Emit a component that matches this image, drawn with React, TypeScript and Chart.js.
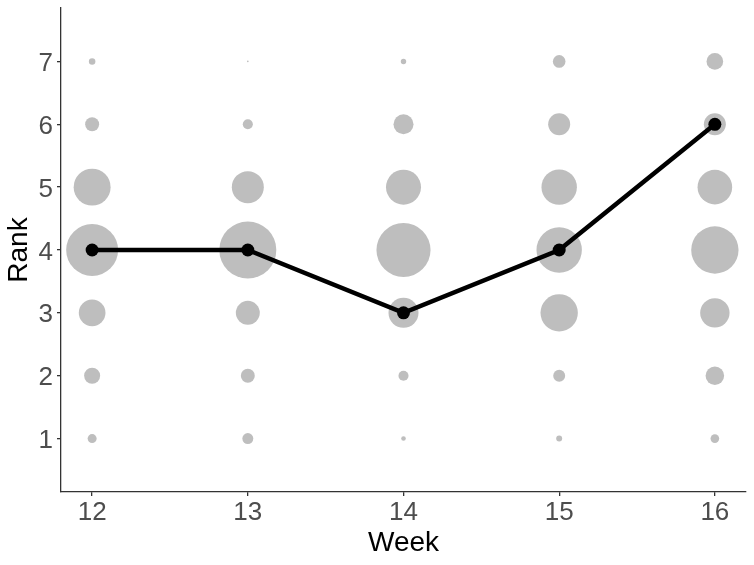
import React, { useEffect, useRef } from "react";
import { Chart, registerables } from "chart.js";

Chart.register(...registerables);

const weeks = [12, 13, 14, 15, 16];
const ranks = [1, 2, 3, 4, 5, 6, 7];
// relative share of each rank in each week (cols: ranks 1..7)
const share12 = [2.5, 7.9, 22, 83, 42, 6.0, 1.3];
const share13 = [3.7, 6.0, 17.7, 100, 31.5, 3.1, 0.08];
const share14 = [0.65, 3.1, 27.7, 90, 37.7, 12.3, 0.9];
const share15 = [1.1, 4.4, 43, 63.4, 38.6, 14.9, 4.9];
const share16 = [2.3, 10.6, 26.6, 69, 36.8, 14.9, 8.5];
const shares = [share12, share13, share14, share15, share16];
const medianRank = [4, 4, 3, 4, 6];
const xTicks = [12, 13, 14, 15, 16];
const yTicks = [1, 2, 3, 4, 5, 6, 7];
const xTitle = "Week";
const yTitle = "Rank";

export default function App() {
  const ref = useRef<HTMLCanvasElement>(null);
  useEffect(() => {
    const bubbles: { x: number; y: number; v: number }[] = [];
    weeks.forEach((w, i) => {
      ranks.forEach((r, j) => bubbles.push({ x: w, y: r, v: shares[i][j] }));
    });
    const font = "'Liberation Sans', Arial, sans-serif";
    const labels = {
      id: "labels",
      afterDraw(chart: any) {
        const { ctx, chartArea } = chart;
        const xs = chart.scales.x;
        const ys = chart.scales.y;
        ctx.save();
        ctx.fillStyle = "#4d4d4d";
        ctx.font = `26px ${font}`;
        ctx.textBaseline = "alphabetic";
        ctx.textAlign = "center";
        xTicks.forEach((t) => ctx.fillText(String(t), xs.getPixelForValue(t), 519.5));
        ctx.textAlign = "right";
        yTicks.forEach((t) => ctx.fillText(String(t), 53, ys.getPixelForValue(t) + 9.5));
        ctx.fillStyle = "#000";
        ctx.font = `28px ${font}`;
        ctx.textAlign = "center";
        ctx.fillText(xTitle, (chartArea.left + chartArea.right) / 2, 551);
        ctx.translate(27, (chartArea.top + chartArea.bottom) / 2);
        ctx.rotate(-Math.PI / 2);
        ctx.fillText(yTitle, 0, 0);
        ctx.restore();
      },
    };
    const chart = new Chart(ref.current!, {
      type: "bubble",
      data: {
        datasets: [
          {
            type: "line",
            data: weeks.map((w, i) => ({ x: w, y: medianRank[i] })),
            borderColor: "#000",
            backgroundColor: "#000",
            borderWidth: 4.5,
            pointRadius: 6.5,
            pointHoverRadius: 6.5,
            pointBorderWidth: 0,
            order: 0,
          } as any,
          {
            type: "bubble",
            data: bubbles as any,
            backgroundColor: "#bebebe",
            borderWidth: 0,
            radius: (c: any) => Math.sqrt(c.raw.v) * 2.85,
            hoverRadius: 0,
            order: 1,
          } as any,
        ],
      },
      options: {
        responsive: false,
        animation: false,
        events: [],
        layout: { autoPadding: false, padding: { top: 8, right: 8, left: 0, bottom: 0 } },
        plugins: { legend: { display: false }, tooltip: { enabled: false } },
        scales: {
          x: {
            type: "linear",
            min: 11.8,
            max: 16.2,
            afterBuildTicks: (s: any) => {
              s.ticks = xTicks.map((v) => ({ value: v }));
            },
            afterFit: (s: any) => {
              s.height = 73;
            },
            border: { display: true, color: "#333", width: 1.3 },
            grid: { display: true, drawOnChartArea: false, color: "#333", tickLength: 4, lineWidth: 1.3 },
            ticks: { display: false },
          },
          y: {
            type: "linear",
            min: 0.15,
            max: 7.85,
            afterBuildTicks: (s: any) => {
              s.ticks = yTicks.map((v) => ({ value: v }));
            },
            afterFit: (s: any) => {
              s.width = 61;
            },
            border: { display: true, color: "#333", width: 1.3 },
            grid: { display: true, drawOnChartArea: false, color: "#333", tickLength: 4, lineWidth: 1.3 },
            ticks: { display: false },
          },
        },
      },
      plugins: [labels],
    } as any);
    return () => chart.destroy();
  }, []);
  return (
    <div style={{ position: "fixed", left: 0, top: 0, width: 754, height: 565, background: "#fff" }}>
      <canvas ref={ref} width={754} height={565} />
    </div>
  );
}
